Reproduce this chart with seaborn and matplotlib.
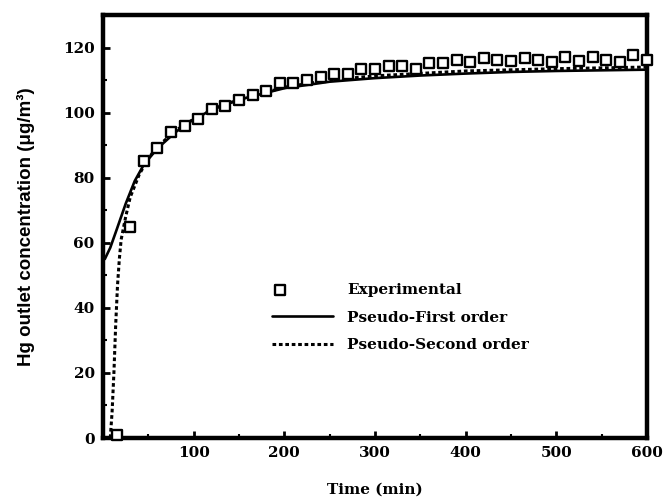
import matplotlib
matplotlib.use("Agg")
import matplotlib.pyplot as plt
from matplotlib.ticker import MultipleLocator
from matplotlib.collections import PathCollection
from matplotlib.legend_handler import HandlerPathCollection
import seaborn as sns
import pandas as pd

# Measured Hg outlet concentration (µg/m³) versus time (min)
exp_time = [15, 30, 45, 60, 75, 90, 105, 120, 135, 150, 165, 180, 195, 210,
            225, 240, 255, 270, 285, 300, 315, 330, 345, 360, 375, 390, 405,
            420, 435, 450, 465, 480, 495, 510, 525, 540, 555, 570, 585, 600]
exp_conc = [1, 65, 85, 89, 94, 96, 98, 101, 102, 104, 105.5, 106.5, 109, 109,
            110, 111, 112, 112, 113.4, 113.3, 114.4, 114.4, 113.4, 115.4, 115.1,
            116.1, 115.7, 116.8, 116.1, 115.9, 116.8, 116.1, 115.7, 117, 115.9,
            117, 116.1, 115.7, 117.8, 116.1]

# Pseudo-first order fitted curve
pfo_time = [2, 8, 15, 25, 35, 45, 60, 80, 100, 125, 150, 200, 250, 300, 350,
            400, 450, 500, 550, 600]
pfo_conc = [55, 58.5, 64, 72, 79, 84, 89, 94, 98, 101.5, 104, 107.5, 109.5,
            110.6, 111.4, 112, 112.5, 112.8, 113, 113.2]

# Pseudo-second order fitted curve
pso_time = [8, 10, 12, 14, 16, 18, 20, 25, 30, 40, 50, 60, 80, 100, 125, 150,
            200, 250, 300, 400, 500, 600]
pso_conc = [0, 8, 20, 35, 47, 55, 61, 68, 74, 81, 86, 89.5, 94.5, 98, 101.5,
            104, 107.8, 110, 111.3, 112.8, 113.5, 114]


class LeftMarkerHandler(HandlerPathCollection):
    """Place the single legend marker near the left end of the handle box."""

    def get_xdata(self, legend, xdescent, ydescent, width, height, fontsize):
        xd = [-xdescent + 0.12 * width]
        return xd, xd


sns.set_theme(style="ticks")
plt.rcParams["font.family"] = ["DejaVu Serif"]
plt.rcParams["text.color"] = "black"
plt.rcParams["axes.labelcolor"] = "black"
plt.rcParams["xtick.color"] = "black"
plt.rcParams["ytick.color"] = "black"

fig = plt.figure(figsize=(6.69, 5.0), dpi=100)
ax = fig.add_axes([0.154, 0.124, 0.813, 0.846])

pfo = pd.DataFrame({"t": pfo_time, "c": pfo_conc})
pso = pd.DataFrame({"t": pso_time, "c": pso_conc})
exp = pd.DataFrame({"t": exp_time, "c": exp_conc})

sns.lineplot(data=pfo, x="t", y="c", ax=ax, color="black", lw=1.9,
             label="Pseudo-First order", zorder=2)
sns.lineplot(data=pso, x="t", y="c", ax=ax, color="black", lw=2.2,
             linestyle=(0, (1.2, 0.9)), label="Pseudo-Second order", zorder=2)
sns.scatterplot(data=exp, x="t", y="c", ax=ax, marker="s", s=44,
                facecolor="white", edgecolor="black", linewidth=1.7,
                label="Experimental", zorder=3, clip_on=False)

ax.set_xlim(0, 600)
ax.set_ylim(0, 130)
ax.xaxis.set_major_locator(MultipleLocator(100))
ax.xaxis.set_minor_locator(MultipleLocator(50))
ax.yaxis.set_major_locator(MultipleLocator(20))
ax.yaxis.set_minor_locator(MultipleLocator(10))
ax.set_xticks([100, 200, 300, 400, 500, 600])
ax.set_yticks([0, 20, 40, 60, 80, 100, 120])

for s in ax.spines.values():
    s.set_linewidth(3.2)
    s.set_color("black")
ax.tick_params(which="major", direction="in", length=5, width=2,
               labelsize=11, pad=6, top=False, right=False)
ax.tick_params(which="minor", direction="in", length=3, width=1.5,
               top=False, right=False)
for lab in ax.get_xticklabels() + ax.get_yticklabels():
    lab.set_fontweight("heavy")

ax.set_xlabel("Time (min)", fontsize=11, fontweight="bold", labelpad=16)
ax.set_ylabel("Hg outlet concentration (μg/m³)", fontsize=13.5,
              fontweight="bold", family=["Liberation Sans", "DejaVu Sans"],
              labelpad=20)

handles, labels = ax.get_legend_handles_labels()
order = [labels.index("Experimental"), labels.index("Pseudo-First order"),
         labels.index("Pseudo-Second order")]
leg = ax.legend([handles[i] for i in order], [labels[i] for i in order],
                loc="upper left", bbox_to_anchor=(0.3, 0.38), frameon=False,
                handlelength=4.0, handletextpad=0.9, labelspacing=0.88,
                borderaxespad=0, prop={"weight": "bold", "size": 11},
                handler_map={PathCollection: LeftMarkerHandler()})

fig.savefig("out.png", dpi=100)
